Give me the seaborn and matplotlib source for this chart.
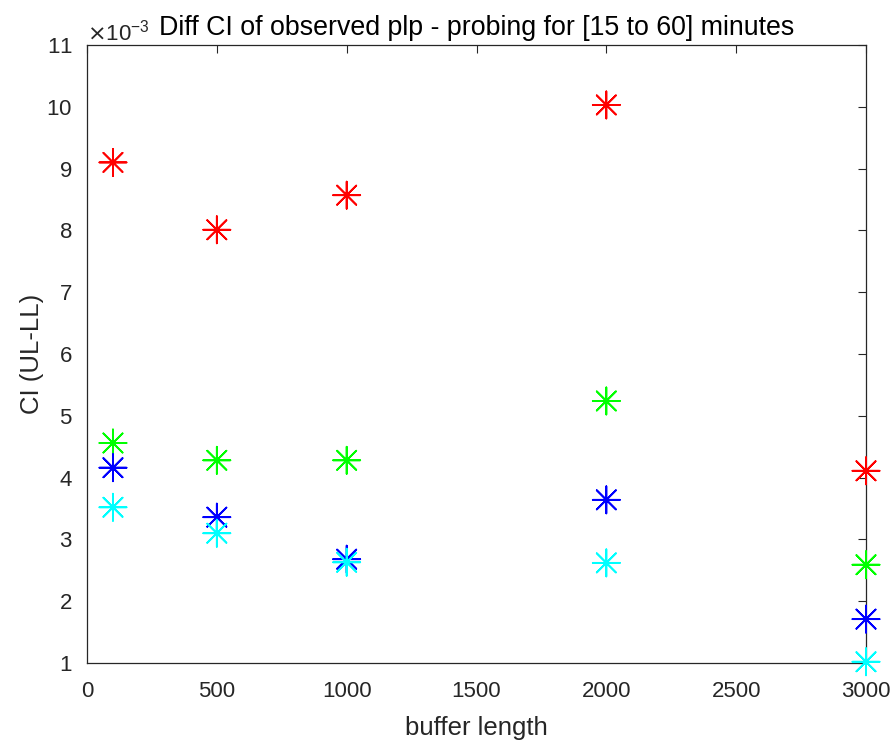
import matplotlib
matplotlib.use("Agg")
import matplotlib.pyplot as plt
import matplotlib.ticker as mticker
import seaborn as sns
import pandas as pd

buffer_length = [100, 500, 1000, 2000, 3000]
red_vals = [9.10e-3, 8.01e-3, 8.57e-3, 10.03e-3, 4.11e-3]
green_vals = [4.56e-3, 4.28e-3, 4.28e-3, 5.24e-3, 2.59e-3]
blue_vals = [4.16e-3, 3.36e-3, 2.68e-3, 3.64e-3, 1.71e-3]
cyan_vals = [3.52e-3, 3.10e-3, 2.63e-3, 2.62e-3, 1.02e-3]
series_names = ["red", "green", "blue", "cyan"]
series_colors = ["#ff0000", "#00ff00", "#0000ff", "#00ffff"]
x_ticks = [0, 500, 1000, 1500, 2000, 2500, 3000]
y_ticks = [1e-3 * k for k in range(1, 12)]

rows = []
for name, vals in zip(series_names, [red_vals, green_vals, blue_vals, cyan_vals]):
    for x, y in zip(buffer_length, vals):
        rows.append({"buffer": x, "ci": y, "series": name})
df = pd.DataFrame(rows)

sns.set_style("white")
plt.rcParams['font.family'] = ['Liberation Sans', 'DejaVu Sans']

fig = plt.figure(figsize=(8.94, 7.44), dpi=100)
ax = fig.add_axes([87/894, 1 - 663/744, (866-87)/894, (663-45)/744])

sns.scatterplot(data=df, x="buffer", y="ci", hue="series", palette=dict(zip(series_names, series_colors)),
                marker=(8, 2, 0), s=380, linewidth=1.3, ax=ax, legend=False, clip_on=False, zorder=3)

ax.set_xlim(0, 3000)
ax.set_ylim(1e-3, 11e-3)
ax.set_xticks(x_ticks)
ax.set_yticks(y_ticks)
fmt = mticker.ScalarFormatter(useMathText=True)
fmt.set_powerlimits((-3, -3))
ax.yaxis.set_major_formatter(fmt)
ax.yaxis.get_offset_text().set_fontsize(16)
ax.yaxis.get_offset_text().set_color("#262626")

ax.tick_params(direction="in", length=6, width=0.8, top=True, right=True, labelsize=16,
               colors="#262626")
ax.tick_params(axis="x", pad=13)
ax.tick_params(axis="y", pad=10.5)
for sp in ax.spines.values():
    sp.set_color("#262626")
    sp.set_linewidth(0.9)

ax.set_xlabel("buffer length", fontsize=18.5, color="#262626", labelpad=10)
ax.set_ylabel("CI (UL-LL)", fontsize=18.5, color="#262626", labelpad=2)
ax.set_title("Diff CI of observed plp - probing for [15 to 60] minutes", fontsize=19.3, color="black", pad=7, x=0.5)

fig.savefig("out.png", dpi=100)
